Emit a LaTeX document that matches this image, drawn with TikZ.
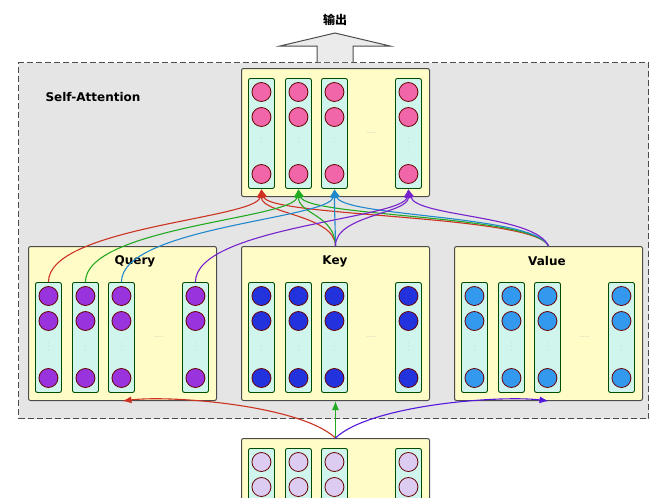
\documentclass[tikz,border=0pt]{standalone}
\usepackage{fontspec}
\setmainfont{DejaVu Sans}
\newfontfamily\cjk{Noto Sans CJK SC}
\usetikzlibrary{arrows.meta,calc}
\definecolor{cR}{HTML}{CC3322}\definecolor{cG}{HTML}{22AA22}
\definecolor{cB}{HTML}{2288CC}\definecolor{cP}{HTML}{7722CC}
\definecolor{fO}{HTML}{F066A8}\definecolor{fQ}{HTML}{9933DD}
\definecolor{fK}{HTML}{2233DD}\definecolor{fV}{HTML}{3399EE}
\definecolor{fX}{HTML}{DDCCF2}\definecolor{colf}{HTML}{CFF5EC}
\tikzset{
 box/.style={draw=black!70,fill=yellow!22,line width=1pt,rounded corners=2pt,minimum width=188pt,anchor=north west,inner sep=0},
 col/.style={draw=black!70!green,fill=colf,line width=0.9pt,rounded corners=2pt,minimum width=26pt,minimum height=110pt,anchor=north west,inner sep=0},
 ball/.style={circle,draw=black!60!red,line width=0.8pt,minimum size=19pt,inner sep=0},
 lbl/.style={font=\bfseries\large},
 vd/.style={text=gray!60,font=\tiny},
 link/.style={line width=1.1pt,-{Latex[length=9pt,width=7pt]}},
}
\newcommand\mklayer[5]{% name, x, y(col top), color, show dots
 \foreach \i/\o in {1/7,2/44,3/80,4/154}{
  \node[col] (#1c\i) at (#2+\o,#3) {};
  \node[ball,fill=#4] (#1c\i a) at ($(#1c\i.north)+(0,14)$) {};
  \node[ball,fill=#4] (#1c\i b) at ($(#1c\i.north)+(0,39)$) {};
  \node[ball,fill=#4] (#1c\i c) at ($(#1c\i.north)+(0,96)$) {};
  \ifnum#5=1 \node[vd] (#1c\i d) at ($(#1c\i.north)+(0,62)$) {$\vdots$};\fi
 }
 \ifnum#5=1 \node[vd] (#1dots) at ($(#1c3.center)!0.5!(#1c4.center)$) {......};\fi
}
\begin{document}
\begin{tikzpicture}[x=1pt,y=-1pt]
\useasboundingbox[fill=white] (0,0) rectangle (670,498);
\node[draw=black!70,dash pattern=on 6pt off 3pt,line width=1.2pt,fill=black!10,minimum width=630pt,minimum height=356pt,anchor=north west] (sa) at (18,62) {};
\node[font=\bfseries\large,anchor=west] (salbl) at (42,97) {Self-Attention};
\draw[draw=black!70,fill=black!8,line width=1pt] (317,62) -- (317,46) -- (280,46) -- (335,33) -- (390,46) -- (353,46) -- (353,62);
\node[font=\cjk\bfseries\large] (outtxt) at (335,20) {输出};
\node[box,minimum height=128pt] (O) at (241,68) {};
\node[box,minimum height=154pt] (Q) at (28,246) {};
\node[box,minimum height=154pt] (K) at (241,246) {};
\node[box,minimum height=154pt] (V) at (454,246) {};
\node[box,minimum height=80pt] (X) at (241,438) {};
\node[lbl] (ql) at (135,261) {Query};
\node[lbl] (kl) at (335,261) {Key};
\node[lbl] (vl) at (547,261) {Value};
\mklayer{o}{241}{78}{fO}{1}
\mklayer{q}{28}{282}{fQ}{1}
\mklayer{k}{241}{282}{fK}{1}
\mklayer{v}{454}{282}{fV}{1}
\mklayer{x}{241}{448}{fX}{0}
% input to Q,K,V
\draw[link,cR] (X.north) .. controls (300,405) and (170,395) .. (Q.south);
\draw[link,cG] (X.north) -- (K.south);
\draw[link,cP!70!blue] (X.north) .. controls (370,405) and (500,395) .. (V.south);
% Q,K,V to output
\foreach \i/\c in {1/cR,2/cG,3/cB,4/cP}{
 \draw[link,\c] (qc\i.north) .. controls ($(qc\i.north)+(0,-55)$) and ($(oc\i.south)+(-5,30)$) .. (oc\i.south);
 \draw[link,\c] (K.north) .. controls (335,215) and ($(oc\i.south)+(0,25)$) .. (oc\i.south);
 \draw[link,\c] (V.north) .. controls (535,215) and ($(oc\i.south)+(8,28)$) .. (oc\i.south);
}
\end{tikzpicture}
\end{document}
